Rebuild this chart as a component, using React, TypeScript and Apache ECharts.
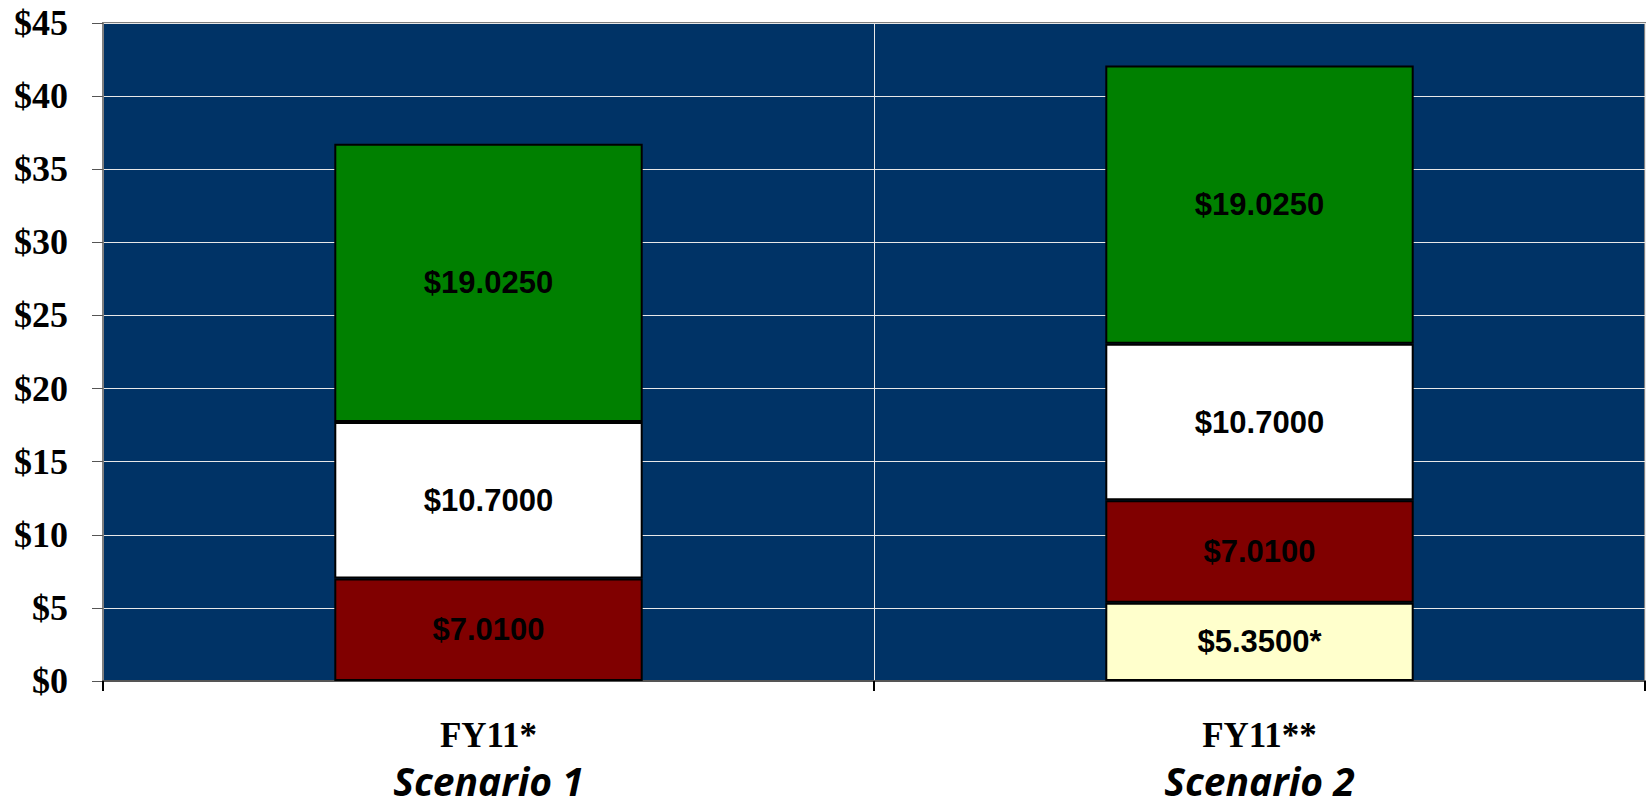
import React, { useEffect, useRef } from "react";
import * as echarts from "echarts";

const categories = ["FY11*", "FY11**"];
const scenarios = ["Scenario 1", "Scenario 2"];
const seriesNames = ["Part A", "Part B", "Part C", "Part D"];
const yellowValues: (number | null)[] = [null, 5.35];
const redValues = [7.01, 7.01];
const whiteValues = [10.7, 10.7];
const greenValues = [19.025, 19.025];
const seriesColors = ["#FFFFCC", "#800000", "#FFFFFF", "#008000"];
const labelSuffix = ["*", "", "", ""];
const yTicks = [0, 5, 10, 15, 20, 25, 30, 35, 40, 45];

export default function App() {
  const ref = useRef<HTMLDivElement>(null);
  useEffect(() => {
    if (!ref.current) return;
    const chart = echarts.init(ref.current, null, { renderer: "svg" });
    const allValues = [yellowValues, redValues, whiteValues, greenValues];
    chart.setOption({
      animation: false,
      grid: {
        left: 103,
        right: 1,
        top: 23,
        bottom: 127,
        show: true,
        backgroundColor: "#003366",
        borderColor: "#808080",
        borderWidth: 2,
      },
      xAxis: {
        type: "category",
        data: categories.map((c, i) => c + "\n" + scenarios[i]),
        axisLine: { show: true, lineStyle: { color: "#555555", width: 2 } },
        axisTick: { show: true, length: 10, lineStyle: { color: "#000000", width: 2 } },
        splitLine: { show: true, lineStyle: { color: "#e8e8e8", width: 1 } },
        axisLabel: {
          margin: 30,
          formatter: (v: string) => {
            const [a, b] = v.split("\n");
            return "{a|" + a + "}\n{b|" + b + "}";
          },
          rich: {
            a: {
              fontFamily: "Liberation Serif",
              fontWeight: "bold",
              fontSize: 35,
              lineHeight: 48,
              color: "#000",
            },
            b: {
              fontFamily: "Open Sans",
              fontWeight: "bold",
              fontStyle: "italic",
              fontSize: 39,
              lineHeight: 42,
              color: "#000",
            },
          },
        },
      },
      yAxis: {
        type: "value",
        min: yTicks[0],
        max: yTicks[yTicks.length - 1],
        interval: 5,
        axisLine: { show: true, lineStyle: { color: "#808080", width: 2 } },
        axisTick: { show: true, length: 11, lineStyle: { color: "#555555", width: 1 } },
        splitLine: { show: true, lineStyle: { color: "#e8e8e8", width: 1 } },
        axisLabel: {
          margin: 35,
          formatter: (v: number) => "$" + v,
          fontFamily: "Liberation Serif",
          fontWeight: "bold",
          fontSize: 36,
          color: "#000",
        },
      },
      series: allValues.map((vals, i) => ({
        name: seriesNames[i],
        type: "bar",
        stack: "total",
        barWidth: "40%",
        data: vals,
        itemStyle: { color: seriesColors[i], borderColor: "#000", borderWidth: 2 },
        label: {
          show: true,
          position: "inside",
          formatter: (p: any) => "$" + Number(p.value).toFixed(4) + labelSuffix[i],
          fontFamily: "Liberation Sans",
          fontWeight: "bold",
          fontSize: 31,
          color: "#000",
        },
      })),
    });
    return () => chart.dispose();
  }, []);
  return (
    <div
      ref={ref}
      style={{ position: "absolute", left: 0, top: 0, width: 1646, height: 808 }}
    />
  );
}
